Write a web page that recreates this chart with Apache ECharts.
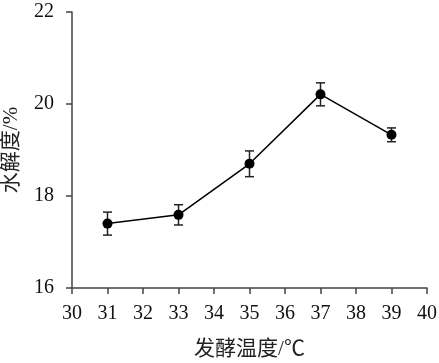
<!DOCTYPE html>
<html><head><meta charset="utf-8">
<script src="https://cdn.jsdelivr.net/npm/echarts@6/dist/echarts.min.js"></script>
<style>html,body{margin:0;padding:0;background:#fff}#c{width:439px;height:363px}</style>
</head><body><div id="c"></div>
<script>
const temps = [31, 33, 35, 37, 39];
const hydrolysis = [17.40, 17.59, 18.70, 20.21, 19.33];
const errors = [0.25, 0.22, 0.28, 0.25, 0.15];
const xTitle = '发酵温度/℃';
const yTitle = '水解度/%';

const chart = echarts.init(document.getElementById('c'));
const serif = '"Liberation Serif","Times New Roman",serif';
const cjk = '"Liberation Serif","Noto Sans CJK SC",serif';
const axisColor = '#444';
chart.setOption({
  animation: false,
  grid: {left: 72, right: 12, top: 12, bottom: 75, outerBoundsMode: 'none', containLabel: false},
  xAxis: {
    type: 'value', min: 30, max: 40, interval: 1,
    name: xTitle, nameLocation: 'middle', nameGap: 51,
    nameTextStyle: {fontFamily: cjk, fontSize: 21, color: '#222'},
    axisLine: {show: true, lineStyle: {color: axisColor, width: 1.5}},
    axisTick: {show: true, length: 6, lineStyle: {color: axisColor, width: 1.5}},
    axisLabel: {fontFamily: serif, fontSize: 20, color: '#111', margin: 16},
    splitLine: {show: false}
  },
  yAxis: {
    type: 'value', min: 16, max: 22, interval: 2,
    name: yTitle, nameLocation: 'middle', nameGap: 50, nameRotate: 90,
    nameTextStyle: {fontFamily: cjk, fontSize: 21, color: '#222'},
    axisLine: {show: true, lineStyle: {color: axisColor, width: 1.5}},
    axisTick: {show: true, length: 6, lineStyle: {color: axisColor, width: 1.5}},
    axisLabel: {fontFamily: serif, fontSize: 20, color: '#111', margin: 18},
    splitLine: {show: false}
  },
  series: [
    {
      type: 'line',
      data: temps.map((t, i) => [t, hydrolysis[i]]),
      symbol: 'circle', symbolSize: 10,
      itemStyle: {color: '#000'},
      lineStyle: {color: '#000', width: 1.5},
      z: 3
    },
    {
      type: 'custom',
      data: temps.map((t, i) => [t, hydrolysis[i] - errors[i], hydrolysis[i] + errors[i]]),
      renderItem: function (params, api) {
        const x = api.value(0);
        const lo = api.coord([x, api.value(1)]);
        const hi = api.coord([x, api.value(2)]);
        const w = 4.5;
        const style = {stroke: '#222', lineWidth: 1.5, fill: null};
        return {
          type: 'group',
          children: [
            {type: 'line', shape: {x1: lo[0], y1: lo[1], x2: hi[0], y2: hi[1]}, style: style},
            {type: 'line', shape: {x1: lo[0] - w, y1: lo[1], x2: lo[0] + w, y2: lo[1]}, style: style},
            {type: 'line', shape: {x1: hi[0] - w, y1: hi[1], x2: hi[0] + w, y2: hi[1]}, style: style}
          ]
        };
      },
      z: 2
    }
  ]
});
</script></body></html>
